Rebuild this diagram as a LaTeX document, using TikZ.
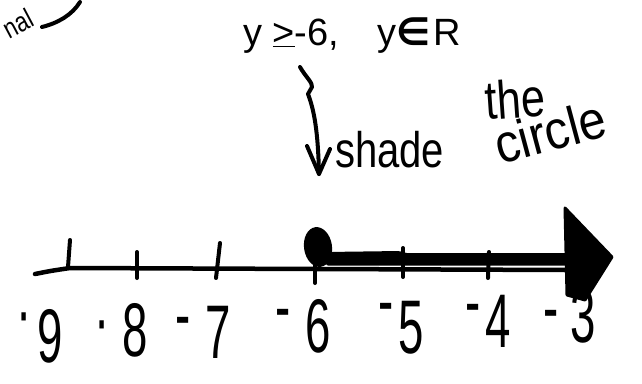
\documentclass[tikz,border=0pt]{standalone}
\usepackage{fontspec}
\setmainfont{Liberation Sans}
\newfontfamily\symfont{DejaVu Sans}
\usepackage{graphicx}
\newcommand{\hsq}[2]{\scalebox{#1}[1]{#2}}
\newcommand{\rdash}[1]{\raisebox{#1}{-}}
\newcommand{\rdot}[1]{\raisebox{#1}{\textperiodcentered}}
\begin{document}
\begin{tikzpicture}[x=1pt,y=-1pt,
  ink/.style={line width=4pt, line cap=round, line join=round},
  typed/.style={font=\fontsize{38}{38}\selectfont, inner sep=0pt, anchor=base west},
  hand/.style={font=\fontsize{50}{50}\selectfont, inner sep=0pt, anchor=base west},
  numlabel/.style={font=\fontsize{76}{76}\selectfont, inner sep=0pt, anchor=base west}]
\useasboundingbox (0,0) rectangle (642,383);
\fill[white] (0,0) rectangle (642,383);

% cut-off handwritten word, top left
\node[hand, font=\fontsize{28}{28}\selectfont, rotate=28, anchor=south west] (nal) at (10,40) {\hsq{0.8}{nal}};
\coordinate (c1) at (42,27);
\coordinate (c2) at (80,2);
\draw[ink] (c1) .. controls (58,23) and (72,15) .. (c2);

% typed statement
\node[typed] (stmt) at (243,45) {y \underline{>}-6,};
\node[typed] (set) at (377,45) {y{\symfont\bfseries ∈}\kern3pt R};

% brace arrow
\coordinate (b0) at (300,67);
\coordinate (b1) at (312,87);
\coordinate (b2) at (308,94);
\coordinate (b3) at (319,174);
\coordinate (bl) at (307,146);
\coordinate (br) at (330,149);
\draw[ink] (b0) .. controls (305,76) and (313,83) .. (b1) -- (b2)
   .. controls (314,110) and (318,130) .. (b3);
\draw[ink] (bl) -- (b3) -- (br);

% handwritten note
\node[hand] (shade) at (335,167) {\hsq{0.8}{shade}};
\node[hand, font=\fontsize{54}{54}\selectfont, rotate=4] (the) at (486,120) {\hsq{0.8}{the}};
\node[hand, font=\fontsize{54}{54}\selectfont, rotate=15] (circ) at (500,165) {\hsq{0.9}{circle}};

% number line
\coordinate (L0) at (35,274);
\coordinate (L1) at (70,268);
\coordinate (L2) at (566,270);
\draw[line width=4.5pt, line cap=round] (L0) .. controls (50,271) .. (L1) -- (L2);

% ticks
\draw[ink] (70,240) -- (68,267);
\draw[ink] (137,252) -- (137,278);
\draw[ink] (220,243) -- (216,278);
\draw[ink] (315,262) -- (315,283);
\draw[ink] (403,248) -- (403,277);
\draw[ink] (489,252) -- (488,278);

% closed dot and shaded ray
\fill[rotate around={8:(318,247)}] (318,247) ellipse [x radius=14, y radius=20];
\fill[rounded corners=2pt] (326,252) -- (400,251) -- (405,253) -- (568,253) -- (568,265.5) -- (326,265.5) -- cycle;
\fill[line join=round, draw, line width=3pt] (565,208) -- (612,257) -- (585,300) -- (567,295) -- cycle;

% labels
\node[numlabel] (n9) at (16,362) {\hsq{0.6}{\rdot{0.32em}\kern10.6pt 9}};
\node[numlabel] (n8) at (94,356) {\hsq{0.6}{\rdot{0.14em}\kern22.2pt 8}};
\node[numlabel] (n7) at (175,358) {\hsq{0.6}{\rdash{0.23em}\kern24.7pt 7}};
\node[numlabel] (n6) at (275,352) {\hsq{0.6}{\rdash{0.26em}\kern24.7pt 6}};
\node[numlabel] (n5) at (378,353) {\hsq{0.6}{\rdash{0.35em}\kern8pt 5}};
\node[numlabel] (n4) at (465,347) {\hsq{0.6}{\rdash{0.26em}\kern8pt 4}};
\node[numlabel] (n3) at (543,342) {\hsq{0.6}{\rdash{0.11em}\kern19.7pt 3}};
\end{tikzpicture}
\end{document}
